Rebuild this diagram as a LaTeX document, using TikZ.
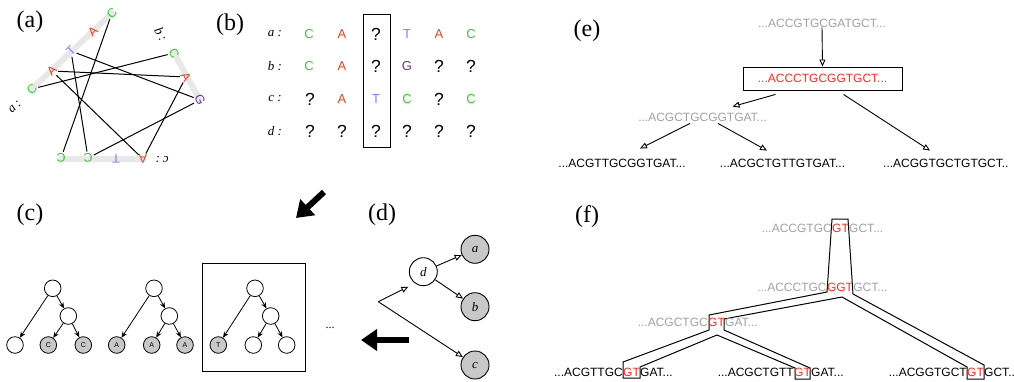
\documentclass[tikz,border=0pt]{standalone}
\usepackage{fontspec}
\setmainfont{Liberation Serif}
\setsansfont{Liberation Sans}
\usetikzlibrary{arrows.meta,calc}
\definecolor{cg}{HTML}{33CC33}
\definecolor{cr}{HTML}{DD4422}
\definecolor{ct}{HTML}{8080FF}
\definecolor{cgp}{HTML}{663399}
\definecolor{redf}{HTML}{FF2A1A}
\definecolor{gtext}{HTML}{A0A0A0}
\definecolor{bandc}{HTML}{E8E8E8}
\definecolor{leafg}{HTML}{C8C8C8}
\begin{document}
\begin{tikzpicture}[x=1pt,y=-1pt,
  lbl/.style={font=\fontsize{24}{26}\selectfont, inner sep=0pt},
  bs/.style={font=\sffamily\fontsize{12.5}{13}\selectfont, inner sep=0pt, circle, minimum size=11pt},
  bandl/.style={line width=6pt, draw=bandc, line cap=round},
  pline/.style={line width=1pt},
  gl/.style={font=\sffamily\fontsize{13}{13}\selectfont, inner sep=0pt},
  qm/.style={font=\sffamily\fontsize{17.5}{17}\selectfont, inner sep=0pt},
  rl/.style={font=\itshape\fontsize{13}{13}\selectfont, inner sep=0pt},
  seq/.style={font=\sffamily\fontsize{12}{12}\selectfont, inner sep=0pt},
  tn/.style={circle, draw, line width=0.8pt, minimum size=16.6pt, inner sep=0pt, fill=white, font=\sffamily\fontsize{7}{7}\selectfont},
  tg/.style={tn, fill=leafg},
  sarr/.style={-{Stealth[length=6pt,width=5pt]}, line width=0.8pt},
  oarr/.style={-{Triangle[open,length=7pt,width=6pt]}, line width=0.9pt},
  dn/.style={circle, draw, line width=0.9pt, minimum size=28pt, inner sep=0pt, font=\itshape\fontsize{13}{13}\selectfont},
  bigarr/.style={line width=6pt, -{Triangle[length=16pt,width=21pt]}},
  tube/.style={line width=1pt, line join=miter},
]
\useasboundingbox (0,0) rectangle (1014,381);

% ---------- (a)
\node[lbl] (la) at (30,22) {(a)};
\draw[bandl] (32,89) -- (112,13);
\draw[bandl] (174,53) -- (200,100);
\draw[bandl] (61,159) -- (143,159);
\node[bs, text=cg, rotate=44] (a1) at (32,89) {C};
\node[bs, text=cr, rotate=44] (a2) at (52,71) {A};
\node[bs, text=ct, rotate=44] (a3) at (71,51) {T};
\node[bs, text=cr, rotate=44] (a4) at (93,32) {A};
\node[bs, text=cg, rotate=44] (a5) at (112,13) {C};
\node[rl, rotate=44] (alab) at (15,107) {a\hspace{3pt}:};
\node[rl, rotate=-61] (blab) at (161,34) {b\hspace{3pt}:};
\node[bs, text=cg, rotate=-61] (b1) at (174,53) {C};
\node[bs, text=cr, rotate=-61] (b2) at (186,77) {A};
\node[bs, text=cgp, rotate=-61] (b3) at (200,100) {G};
\node[rl, rotate=180] (clab) at (162,159) {c\hspace{3pt}:};
\node[bs, text=cr, rotate=180] (c1) at (143,159) {A};
\node[bs, text=ct, rotate=180] (c2) at (116,159) {T};
\node[bs, text=cg, rotate=180] (c3) at (88,158) {C};
\node[bs, text=cg, rotate=180] (c4) at (61,158) {C};
\draw[pline] (a5) -- (c4);
\draw[pline] (a3) -- (b3);
\draw[pline] (a3) -- (c3);
\draw[pline] (a2) -- (b2);
\draw[pline] (a2) -- (c1);
\draw[pline] (a1) -- (b1);
\draw[pline] (b2) -- (c1);
\draw[pline] (b3) -- (c3);

% ---------- (b)
\node[lbl] (lb) at (230,25) {(b)};
\node[draw, line width=0.9pt, minimum width=27pt, minimum height=133pt, inner sep=0pt] (colbox) at (376.5,80.5) {};
\node[rl] (ra) at (275,34) {a :};
\node[rl] (rb) at (275,66) {b :};
\node[rl] (rc) at (275,99) {c :};
\node[rl] (rd) at (275,131) {d :};
% row a
\node[gl, text=cg] (ba1) at (309,34) {C};
\node[gl, text=cr] (ba2) at (342,34) {A};
\node[qm] (ba3) at (376,34) {?};
\node[gl, text=ct] (ba4) at (407,34) {T};
\node[gl, text=cr] (ba5) at (439,34) {A};
\node[gl, text=cg] (ba6) at (471,34) {C};
% row b
\node[gl, text=cg] (bb1) at (309,66) {C};
\node[gl, text=cr] (bb2) at (342,66) {A};
\node[qm] (bb3) at (376,66) {?};
\node[gl, text=cgp] (bb4) at (407,66) {G};
\node[qm] (bb5) at (439,66) {?};
\node[qm] (bb6) at (471,66) {?};
% row c
\node[qm] (bc1) at (310,99) {?};
\node[gl, text=cr] (bc2) at (342,99) {A};
\node[gl, text=ct] (bc3) at (376,99) {T};
\node[gl, text=cg] (bc4) at (407,99) {C};
\node[qm] (bc5) at (439,99) {?};
\node[gl, text=cg] (bc6) at (471,99) {C};
% row d
\node[qm] (bd1) at (310,131) {?};
\node[qm] (bd2) at (342,131) {?};
\node[qm] (bd3) at (376,131) {?};
\node[qm] (bd4) at (407,131) {?};
\node[qm] (bd5) at (439,131) {?};
\node[qm] (bd6) at (471,131) {?};

% ---------- big arrows
\coordinate (g1s) at (324,192);
\coordinate (g1e) at (296,218);
\draw[bigarr] (g1s) -- (g1e);
\coordinate (g2s) at (409,340);
\coordinate (g2e) at (361,340);
\draw[bigarr] (g2s) -- (g2e);

% ---------- (c)
\node[lbl] (lc) at (30,215) {(c)};
\node[draw, line width=0.9pt, minimum width=102.3pt, minimum height=108.4pt, inner sep=0pt] (cbox) at (253.85,317.5) {};
\node[tn] (t1r) at (52.7,288.3) {};
\node[tn] (t1c) at (68.3,316) {};
\node[tn] (t1l1) at (15,345) {};
\node[tg] (t1l2) at (48.3,345) {C};
\node[tg] (t1l3) at (83.3,345) {C};
\draw[sarr] (t1r) -- (t1l1);
\draw[sarr] (t1r) -- (t1c);
\draw[sarr] (t1c) -- (t1l2);
\draw[sarr] (t1c) -- (t1l3);
\node[tn] (t2r) at (154,288.3) {};
\node[tn] (t2c) at (169.3,316) {};
\node[tg] (t2l1) at (116.7,345) {A};
\node[tg] (t2l2) at (151.7,345) {A};
\node[tg] (t2l3) at (185,345) {A};
\draw[sarr] (t2r) -- (t2l1);
\draw[sarr] (t2r) -- (t2c);
\draw[sarr] (t2c) -- (t2l2);
\draw[sarr] (t2c) -- (t2l3);
\node[tn] (t3r) at (255,288.3) {};
\node[tn] (t3c) at (270.7,316) {};
\node[tg] (t3l1) at (218.3,345) {T};
\node[tn] (t3l2) at (253.3,345) {};
\node[tn] (t3l3) at (286.7,345) {};
\draw[sarr] (t3r) -- (t3l1);
\draw[sarr] (t3r) -- (t3c);
\draw[sarr] (t3c) -- (t3l2);
\draw[sarr] (t3c) -- (t3l3);
\node[font=\fontsize{12}{12}\selectfont, inner sep=0pt] (cdots) at (330,328) {...};

% ---------- (d)
\node[lbl] (ld) at (382,215) {(d)};
\node[dn] (dd) at (423.3,271.7) {d};
\node[dn, fill=leafg] (da) at (475,249.3) {a};
\node[dn, fill=leafg] (db) at (475,306.7) {b};
\node[dn, fill=leafg] (dc) at (475,365) {c};
\coordinate (br) at (378.3,301.7);
\draw[oarr] (br) -- ($(dd)+(-15,15)$);
\draw[oarr] (br) -- (dc);
\draw[oarr] (dd) -- (da);
\draw[oarr] (dd) -- (db);

% ---------- (e)
\node[lbl] (le) at (587,31) {(e)};
\node[seq, text=gtext] (e0) at (822,23) {...ACCGTGCGATGCT...};
\node[seq, text=redf, draw=black, line width=0.9pt, minimum width=159pt, minimum height=23pt] (e1) at (822.5,78.5) {...ACCCTGCGGTGCT...};
\node[seq, text=gtext] (e2) at (702.5,117) {...ACGCTGCGGTGAT...};
\node[seq] (e3) at (622,163) {...ACGTTGCGGTGAT...};
\node[seq] (e4) at (782.5,163) {...ACGCTGTTGTGAT...};
\node[seq, anchor=west] (e5) at (883,163) {...ACGGTGCTGTGCT..};
\draw[oarr] (e0.south) -- (e1.north);
\draw[oarr] ($(e1.south)+(-47,4)$) -- ($(e2.north)+(30,-6)$);
\draw[oarr] ($(e1.south)+(21,4)$) -- ($(e5.north west)+(47,-8)$);
\draw[oarr] ($(e2.south)+(-12.5,2)$) -- ($(e3.north)+(18,-10)$);
\draw[oarr] ($(e2.south)+(15.5,2)$) -- ($(e4.north)+(-15.5,-8)$);

% ---------- (f)
\node[lbl] (lf) at (587,217) {(f)};
\draw[tube] (832,219) -- (848,219) -- (853,294) -- (984,365) -- (984,379) -- (967,379) -- (967,367) -- (842,297) -- (724,319) -- (724,330) -- (810,368) -- (810,379) -- (795,379) -- (795,368) -- (717,335) -- (640,367) -- (640,378) -- (623,378) -- (623,362) -- (709,330) -- (709,315) -- (827,292) -- cycle;
\node[seq, text=redf] (f1) at (840.5,228) {GT};
\node[seq, text=gtext, anchor=base east] (f1a) at (f1.base west) {...ACCGTGC};
\node[seq, text=gtext, anchor=base west] (f1b) at (f1.base east) {GCT...};
\node[seq, text=redf] (f2) at (840,287) {GGT};
\node[seq, text=gtext, anchor=base east] (f2a) at (f2.base west) {...ACCCTGC};
\node[seq, text=gtext, anchor=base west] (f2b) at (f2.base east) {GCT...};
\node[seq, text=redf] (f3) at (716.5,322) {GT};
\node[seq, text=gtext, anchor=base east] (f3a) at (f3.base west) {...ACGCTGC};
\node[seq, text=gtext, anchor=base west] (f3b) at (f3.base east) {GAT...};
\node[seq, text=redf] (f4) at (631.5,372) {GT};
\node[seq, anchor=base east] (f4a) at (f4.base west) {...ACGTTGC};
\node[seq, anchor=base west] (f4b) at (f4.base east) {GAT...};
\node[seq, text=redf] (f5) at (802.5,372) {GT};
\node[seq, anchor=base east] (f5a) at (f5.base west) {...ACGCTGTT};
\node[seq, anchor=base west] (f5b) at (f5.base east) {GAT...};
\node[seq, text=redf] (f6) at (975.5,372) {GT};
\node[seq, anchor=base east] (f6a) at (f6.base west) {...ACGGTGCT};
\node[seq, anchor=base west] (f6b) at (f6.base east) {GCT..};
\end{tikzpicture}
\end{document}
